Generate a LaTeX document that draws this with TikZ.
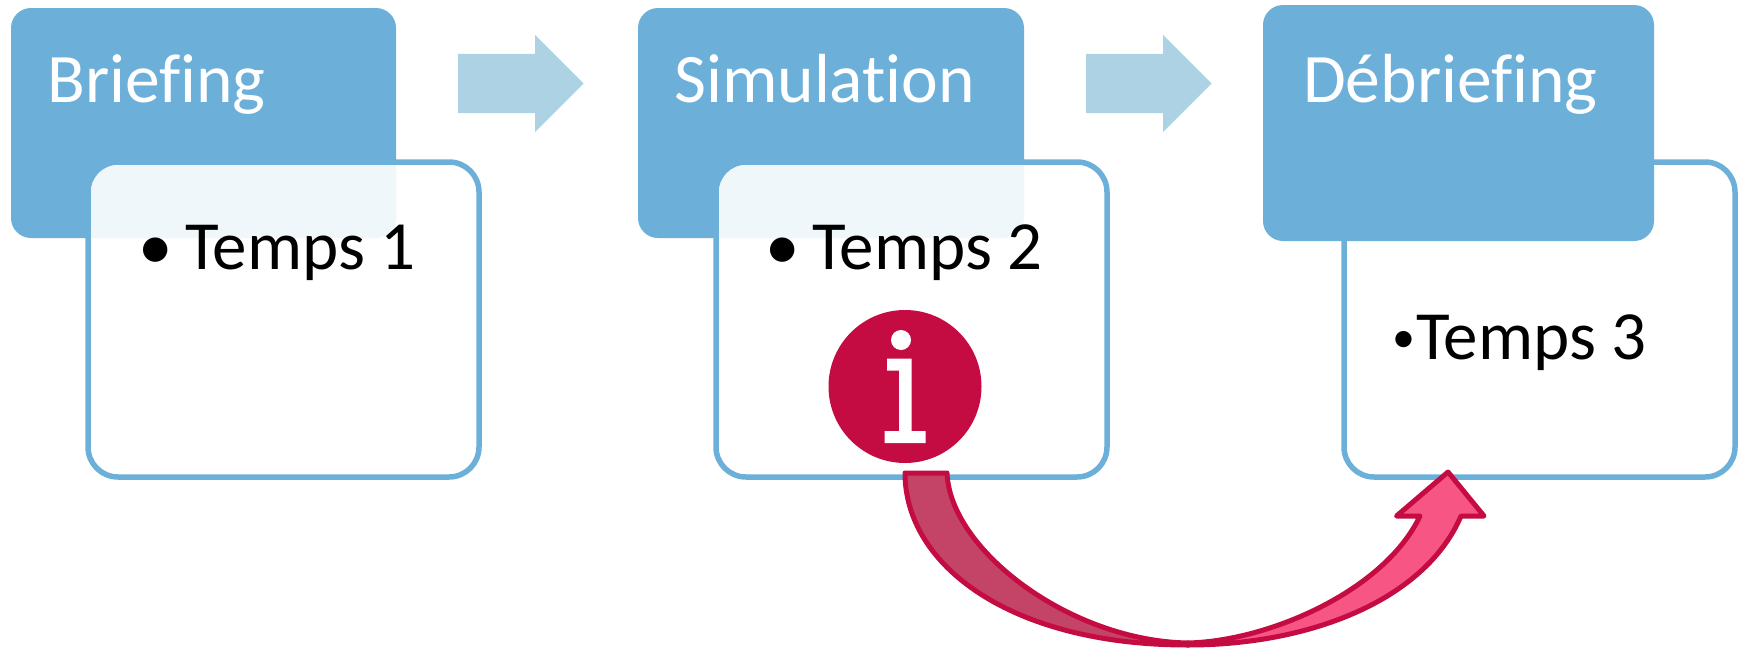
\documentclass[tikz,border=0pt]{standalone}
\usepackage{fontspec}
\setmainfont[Ligatures=NoCommon]{Carlito}
\usetikzlibrary{shapes.arrows}

\definecolor{myblue}{HTML}{6CB0DA}
\definecolor{mylight}{HTML}{ACD2E4}
\definecolor{myred}{HTML}{C40C42}
\definecolor{mydark}{HTML}{C44468}
\definecolor{mypink}{HTML}{F75584}

\begin{document}
\begin{tikzpicture}[x=1pt,y=-1pt]

\tikzstyle{mytitle}=[fill=myblue, rounded corners=20pt, minimum height=230pt, inner sep=0pt]
\tikzstyle{mycard}=[draw=myblue, line width=5.5pt, fill=white, fill opacity=.9, draw opacity=1, rounded corners=30pt, minimum width=391pt, minimum height=315pt, inner sep=0pt]
\tikzstyle{myarrow}=[fill=mylight, single arrow, single arrow head extend=19pt, minimum height=125.5pt, inner sep=0pt, anchor=tip]
\tikzstyle{myhead}=[text=white, font=\fontsize{69.5}{69.5}\selectfont, anchor=base west, inner sep=0pt]
\tikzstyle{mytext}=[text=black, font=\fontsize{69}{69}\selectfont, anchor=base west, inner sep=0pt]
\tikzstyle{mybend}=[draw=myred, line width=5pt, line join=round]

\useasboundingbox (0,0) rectangle (1743,648);

% first two steps
\node (box1) [mytitle, minimum width=385pt] at (203.5,123) {};
\node (box2) [mytitle, minimum width=386pt] at (831,123) {};
\node (card1) [mycard] at (283.5,319.5) {};
\node (card2) [mycard] at (911.5,319.5) {};

% third step, title on top of the card
\node (card3) [mycard] at (1539.5,319.5) {};
\node (box3) [mytitle, minimum width=391pt, minimum height=236pt] at (1458.5,123) {};

\foreach \x/\y/\t [count=\i] in {47/102/Briefing, 674/102/Simulation, 1303/102/Débriefing} {
    \node (head\i) [myhead] at (\x,\y) {\t};
}

\node (text1) [mytext] at (138,269) {\textbullet\hspace{-3pt} Temps 1};
\node (text2) [mytext] at (765,269) {\textbullet\hspace{-3pt} Temps 2};
\node (text3) [mytext] at (1392,359) {\raisebox{7pt}{\fontsize{46}{46}\selectfont\textbullet}\hspace{1pt}Temps 3};

\node (next1) [myarrow] at (584,83.5) {\rule{0pt}{59pt}};
\node (next2) [myarrow] at (1212,83.5) {\rule{0pt}{59pt}};

% info sign
\node (info) [circle, fill=myred, minimum size=153pt, inner sep=0pt] at (905,386.5) {};
\fill[white] (901,340) circle (10pt);
\fill[white] (887,358.5) -- (911.5,358.5) -- (911.5,431) -- (925.5,431) -- (925.5,443)
    -- (884.5,443) -- (884.5,431) -- (899,431) -- (899,370.5) -- (887,370.5) -- cycle;

% curved arrow
\coordinate (fromA) at (905,473);
\coordinate (fromB) at (947,473);
\coordinate (lowA) at (1188,645);
\coordinate (lowB) at (1188,643);
\coordinate (tip) at (1448,472);
\draw[mybend, fill=mydark] (fromA) .. controls (905,565) and (1010,645) .. (lowA)
    -- (lowB) .. controls (1070,641) and (950,550) .. (fromB) -- cycle;
\draw[mybend, fill=mypink] (lowB) .. controls (1270,641) and (1385,590) .. (1420,516)
    -- (1396.5,516) -- (tip) -- (1484,516) -- (1461,516)
    .. controls (1425,600) and (1310,645) .. (lowA) -- cycle;

\end{tikzpicture}
\end{document}
